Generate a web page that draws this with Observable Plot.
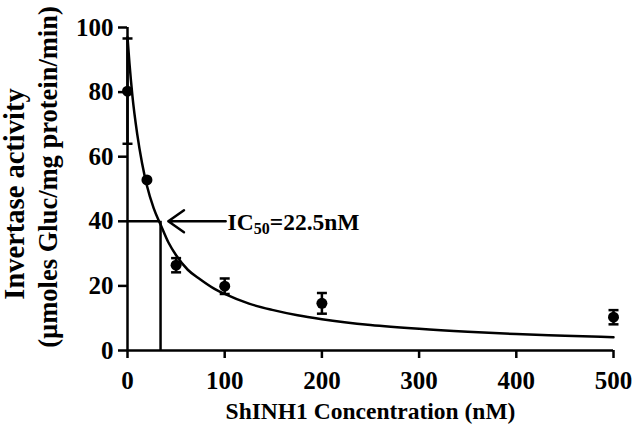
<!DOCTYPE html>
<html>
<head>
<meta charset="utf-8">
<script src="https://cdn.jsdelivr.net/npm/d3@7"></script>
<script src="https://cdn.jsdelivr.net/npm/@observablehq/plot@0.6"></script>
<style>
  html, body { margin: 0; padding: 0; background: #fff; }
</style>
</head>
<body>
<div id="chart"></div>
<script>
// Measured points (concentration nM, activity, error)
const concentration = [0, 20, 50, 100, 200, 500];
const activity = [80.3, 52.8, 26.4, 19.9, 14.6, 10.3];
const errors = [16.3, 0, 2.2, 2.4, 3.2, 2.2];

// Fitted curve
const curveX = [0, 2, 5, 10, 15, 20, 27, 34, 42, 50, 62, 75, 90, 100, 125, 150, 175, 200, 250, 300, 350, 400, 450, 500];
const curveY = [97, 89, 79, 67, 58, 51, 44, 39, 33.5, 29.5, 25, 22, 19, 17.5, 14.5, 12.5, 10.9, 9.7, 7.9, 6.7, 5.8, 5.1, 4.6, 4.1];

const xTicks = [0, 100, 200, 300, 400, 500];
const yTicks = [0, 20, 40, 60, 80, 100];

const ic50Line = 34;       // position of the drop line (nM)
const ic50Level = 40;      // activity level of the guide line
const arrowFrom = 101, arrowTo = 42;
const ic50Label = "IC50=22.5nM";

const xTitle = "ShINH1 Concentration (nM)";
const yTitle1 = "Invertase activity";
const yTitle2 = "(\u00b5moles Gluc/mg protein/min)";

const points = concentration.map((c, i) => ({x: c, y: activity[i], lo: activity[i] - errors[i], hi: activity[i] + errors[i]}));
const curve = curveX.map((x, i) => ({x, y: curveY[i]}));
const withErr = points.filter(d => d.hi > d.lo);

const capSymbol = {
  draw(ctx, size) {
    const r = Math.sqrt(size / Math.PI);
    ctx.moveTo(-r, 0);
    ctx.lineTo(r, 0);
  }
};

const font = "'Liberation Serif', 'Times New Roman', serif";
const SW = 2.5;

const plot = Plot.plot({
  width: 638,
  height: 438,
  marginLeft: 127,
  marginRight: 25,
  marginTop: 27,
  marginBottom: 88,
  style: {fontFamily: font, fontWeight: "bold", color: "black", background: "white", overflow: "visible"},
  x: {domain: [0, 500]},
  y: {domain: [0, 100]},
  marks: [
    Plot.axisX({ticks: xTicks, tickSize: 8, tickPadding: 13, strokeWidth: SW, fontSize: 25, label: null, tickFormat: d => String(d)}),
    Plot.axisY({ticks: yTicks, tickSize: 9, tickPadding: 5, strokeWidth: SW, fontSize: 25, label: null, tickFormat: d => String(d)}),
    Plot.ruleY([0], {x1: 0, x2: 500, strokeWidth: SW}),
    Plot.ruleX([0], {y1: 0, y2: 100, strokeWidth: SW}),
    // IC50 guide lines
    Plot.ruleY([ic50Level], {x1: 0, x2: ic50Line, strokeWidth: SW}),
    Plot.ruleX([ic50Line], {y1: 0, y2: ic50Level, strokeWidth: SW}),
    Plot.arrow([{x1: arrowFrom, x2: arrowTo, y: ic50Level}], {x1: "x1", x2: "x2", y1: "y", y2: "y", strokeWidth: SW, headLength: 14, headAngle: 70}),
    Plot.text([{x: arrowFrom + 2, y: ic50Level}], {x: "x", y: "y", text: () => ic50Label, textAnchor: "start", fontSize: 23.5, fontWeight: "bold", dy: 1}),
    // curve
    Plot.line(curve, {x: "x", y: "y", curve: "monotone-x", strokeWidth: SW}),
    // error bars
    Plot.ruleX(withErr, {x: "x", y1: "lo", y2: "hi", strokeWidth: SW}),
    Plot.dot(withErr, {x: "x", y: "lo", symbol: capSymbol, r: 5, stroke: "black", fill: "none", strokeWidth: SW}),
    Plot.dot(withErr, {x: "x", y: "hi", symbol: capSymbol, r: 5, stroke: "black", fill: "none", strokeWidth: SW}),
    Plot.dot(points, {x: "x", y: "y", r: 5.5, fill: "black", stroke: "none"}),
    // axis titles
    Plot.text([xTitle], {frameAnchor: "bottom", textAnchor: "middle", text: d => d, dy: 68, fontSize: 23.5, fontWeight: "bold"}),
    Plot.text([yTitle1], {frameAnchor: "left", textAnchor: "middle", text: d => d, rotate: -90, dx: -113, dy: 5, fontSize: 28.5, fontWeight: "bold"}),
    Plot.text([yTitle2], {frameAnchor: "left", textAnchor: "middle", text: d => d, rotate: -90, dx: -79, dy: -12, fontSize: 26.5, fontWeight: "bold"})
  ]
});

// subscript for IC50
d3.select(plot).selectAll("text").filter(function() { return this.textContent === ic50Label; })
  .each(function() {
    const t = d3.select(this);
    t.text(null);
    t.append("tspan").text("IC");
    t.append("tspan").attr("baseline-shift", "-25%").attr("font-size", "16").text("50");
    t.append("tspan").text("=22.5nM");
  });

document.getElementById("chart").appendChild(plot);
</script>
</body>
</html>
